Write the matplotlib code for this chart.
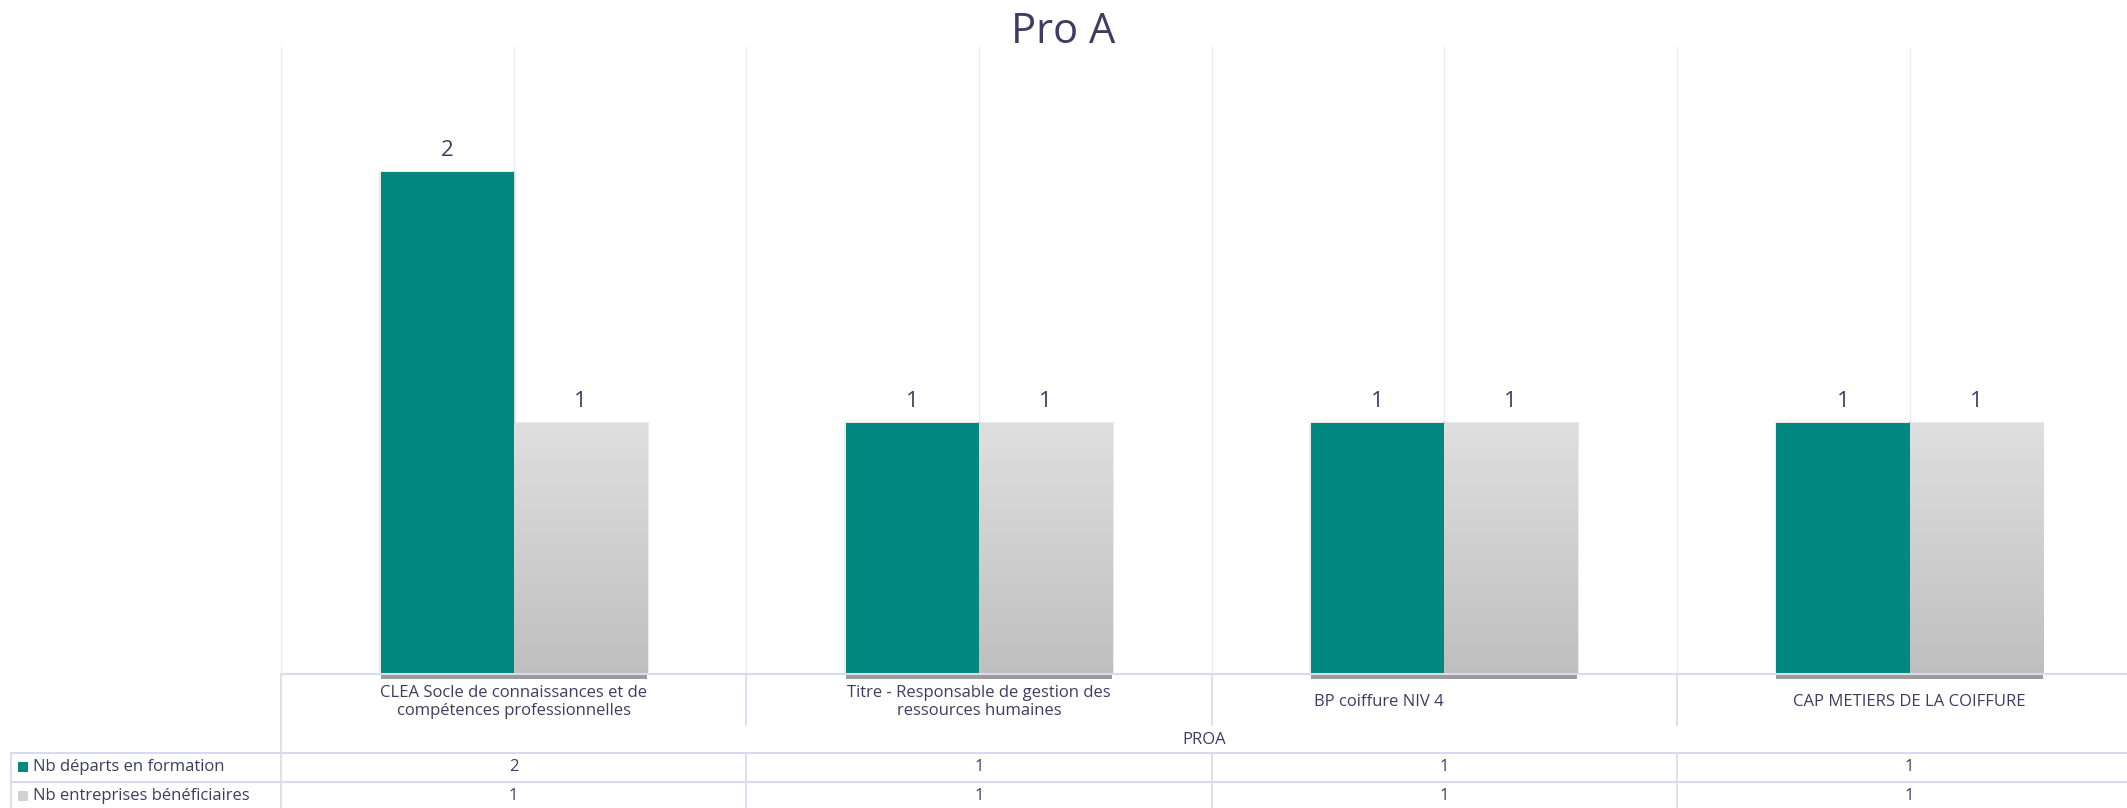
import numpy as np
import matplotlib.pyplot as plt
from matplotlib.colors import LinearSegmentedColormap
from matplotlib.lines import Line2D
from matplotlib.patches import Rectangle
from matplotlib.transforms import blended_transform_factory

plt.rcParams['font.family'] = ['Open Sans', 'DejaVu Sans']

# données
title = 'Pro A'
group_label = 'PROA'
categories = ['CLEA Socle de connaissances et de\ncompétences professionnelles',
              'Titre - Responsable de gestion des\nressources humaines',
              'BP coiffure NIV 4',
              'CAP METIERS DE LA COIFFURE']
series_names = ['Nb départs en formation', 'Nb entreprises bénéficiaires']
departs = [2, 1, 1, 1]
entreprises = [1, 1, 1, 1]

TEAL = '#00877f'
GRAY = '#d2d2d2'
TXT = '#3d3d63'
GRID = '#ebebf2'
TABLE = '#d9d9f2'

W, H = 2127, 808
fig = plt.figure(figsize=(W / 100, H / 100), dpi=100)


def fx(px):
    return px / W


def fy(py):
    return 1 - py / H


ax = fig.add_axes([fx(281), fy(674), fx(W) - fx(281), fy(47) - fy(674)])
ax.axis('off')

n = len(categories)
x = np.arange(n)
bw = 0.286

for v in np.arange(-0.5, n, 0.5):
    ax.axvline(v, color=GRID, lw=1, zorder=0)

b1 = ax.bar(x - bw / 2, departs, bw, color=TEAL, zorder=3)
b2 = ax.bar(x + bw / 2, entreprises, bw, color=GRAY, zorder=3)

# dégradé sur les barres grises
cmap = LinearSegmentedColormap.from_list('g', ['#bfbfbf', '#dfdfdf'])
grad = np.linspace(0, 1, 256).reshape(-1, 1)
for r in b2:
    im = ax.imshow(grad, extent=[r.get_x(), r.get_x() + r.get_width(), 0, r.get_height()],
                   origin='lower', cmap=cmap, aspect='auto', zorder=3.1)
    im.set_clip_path(r)

# ombres
for r in list(b1) + list(b2):
    ax.add_patch(Rectangle((r.get_x() - 0.004, 0), r.get_width() + 0.008, r.get_height() + 0.006,
                           color='k', alpha=0.08, lw=0, zorder=2))
    ax.add_patch(Rectangle((r.get_x(), -0.02), r.get_width(), 0.02,
                           color='#8a8a8a', alpha=0.85, lw=0, clip_on=False, zorder=2))

ax.bar_label(b1, padding=8, fontsize=16, color=TXT)
ax.bar_label(b2, padding=8, fontsize=16, color=TXT)

ax.set_xlim(-0.5, -0.5 + (W - 281) / 465.3)
ax.set_ylim(0, 2.5)

fig.text(0.5, fy(32), title, fontsize=30, ha='center', va='center', color=TXT)

# tableau sous le graphique
trans = blended_transform_factory(ax.transData, fig.transFigure)
ax_trans = blended_transform_factory(ax.transAxes, fig.transFigure)


def hline(y, x0, x1=W):
    fig.add_artist(Line2D([fx(x0), fx(x1)], [fy(y), fy(y)], color=TABLE, lw=1.5, zorder=5))


def vline_fig(xp, y0, y1):
    fig.add_artist(Line2D([fx(xp), fx(xp)], [fy(y0), fy(y1)], color=TABLE, lw=1.2))


hline(674, 281)
hline(753, 11)
hline(782, 11)
vline_fig(281, 674, H)
vline_fig(11, 753, H)

for b in np.arange(0.5, n - 0.5, 1):
    fig.add_artist(Line2D([b, b], [fy(674), fy(725)], color=TABLE, lw=1.2, transform=trans))
    fig.add_artist(Line2D([b, b], [fy(753), fy(H)], color=TABLE, lw=1.2, transform=trans))

label_shift = [0, 0, -0.14, 0]
for i, lab in enumerate(categories):
    fig.text(i + label_shift[i], fy(702), lab, transform=trans, ha='center', va='center',
             fontsize=12, color=TXT, linespacing=1.2)

fig.text(0.5, fy(740), group_label, transform=ax_trans, ha='center', va='center',
         fontsize=12, color=TXT)

rows = [departs, entreprises]
row_y = [767, 796]
row_colors = [TEAL, GRAY]
for name, vals, yy, c in zip(series_names, rows, row_y, row_colors):
    fig.add_artist(Rectangle((fx(18), fy(yy + 5)), fx(10), 10 / H, color=c, lw=0))
    fig.text(fx(33), fy(yy), name, ha='left', va='center', fontsize=12, color=TXT)
    for i, v in enumerate(vals):
        fig.text(i, fy(yy), str(v), transform=trans, ha='center', va='center',
                 fontsize=12, color=TXT)

fig.savefig('out.png', dpi=100)
